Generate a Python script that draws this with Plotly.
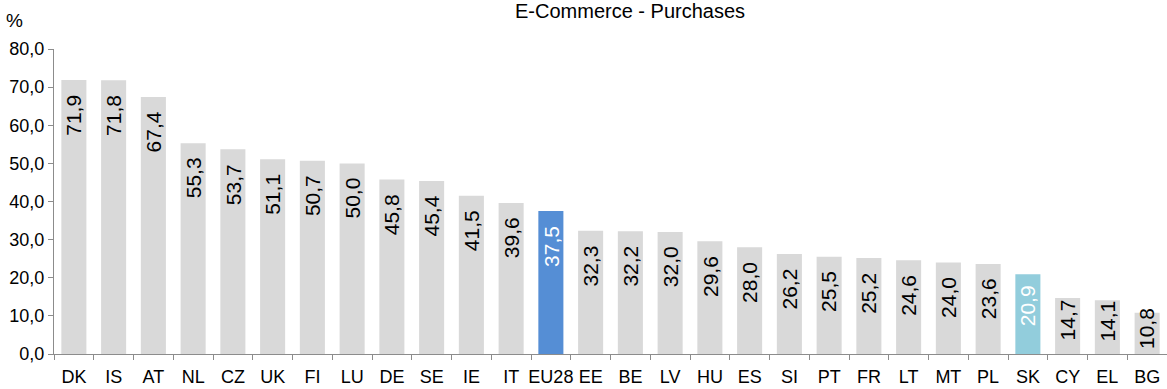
import plotly.graph_objects as go

# Share of individuals buying online, by country (%)
countries = ["DK", "IS", "AT", "NL", "CZ", "UK", "FI", "LU", "DE", "SE", "IE", "IT",
             "EU28", "EE", "BE", "LV", "HU", "ES", "SI", "PT", "FR", "LT", "MT", "PL",
             "SK", "CY", "EL", "BG"]
purchases = [71.9, 71.8, 67.4, 55.3, 53.7, 51.1, 50.7, 50.0, 45.8, 45.4, 41.5, 39.6,
             37.5, 32.3, 32.2, 32.0, 29.6, 28.0, 26.2, 25.5, 25.2, 24.6, 24.0, 23.6,
             20.9, 14.7, 14.1, 10.8]
y_ticks = [0, 10, 20, 30, 40, 50, 60, 70, 80]

GREY = "#D9D9D9"
EU_BLUE = "#558ED5"
SK_BLUE = "#92CDDC"
FONT = "Liberation Sans Narrow, Arial Narrow, Liberation Sans, Arial, sans-serif"

W, H = 1167, 389
M_L, M_R, M_T, M_B = 54, 0, 49, 35
plot_h = H - M_T - M_B
px_per_unit = plot_h / (y_ticks[-1] - y_ticks[0])

bar_colors = [EU_BLUE if c == "EU28" else SK_BLUE if c == "SK" else GREY for c in countries]
label_colors = ["white" if c in ("EU28", "SK") else "black" for c in countries]

fig = go.Figure(go.Bar(
    x=countries, y=purchases,
    marker=dict(color=bar_colors, line=dict(width=0)),
    hoverinfo="x+y",
))

# value labels, rotated, sitting near the top of each bar
for c, v, col in zip(countries, purchases, label_colors):
    offset_px = min(35.0, 0.39 * v * px_per_unit)
    fig.add_annotation(
        x=c, y=v - offset_px / px_per_unit,
        text=f"{v:.1f}".replace(".", ","),
        textangle=-90, showarrow=False,
        xanchor="center", yanchor="middle",
        font=dict(family=FONT, size=21, color=col),
    )

fig.add_annotation(
    xref="paper", yref="paper",
    x=(629.5 - M_L) / (W - M_L - M_R), y=1 + (M_T - 10.5) / plot_h,
    text="E-Commerce - Purchases", showarrow=False,
    xanchor="center", yanchor="middle",
    font=dict(family=FONT, size=20, color="black"),
)
fig.add_annotation(
    xref="paper", yref="paper",
    x=(14 - M_L) / (W - M_L - M_R), y=1 + (M_T - 20) / plot_h,
    text="%", showarrow=False,
    xanchor="center", yanchor="middle",
    font=dict(family=FONT, size=19, color="black"),
)

fig.update_layout(
    width=W, height=H,
    margin=dict(l=M_L, r=M_R, t=M_T, b=M_B, pad=0),
    paper_bgcolor="white", plot_bgcolor="white",
    bargap=0.37,
    showlegend=False,
    separators=",.",
    font=dict(family=FONT, size=18, color="black"),
    xaxis=dict(
        showline=True, linecolor="#8C8C8C", linewidth=1,
        ticks="outside", tickson="boundaries", ticklen=5, tickcolor="#8C8C8C",
        showgrid=False, tickfont=dict(size=18), tickangle=0,
        ticklabelstandoff=6,
        range=[-0.5, len(countries) - 0.5],
    ),
    yaxis=dict(
        range=[y_ticks[0], y_ticks[-1]], tickvals=y_ticks, tickformat=".1f",
        showline=True, linecolor="#8C8C8C", linewidth=1,
        ticks="outside", ticklen=5, tickcolor="#8C8C8C",
        showgrid=False, zeroline=False, tickfont=dict(size=18),
    ),
)

fig.write_html("out.html")
